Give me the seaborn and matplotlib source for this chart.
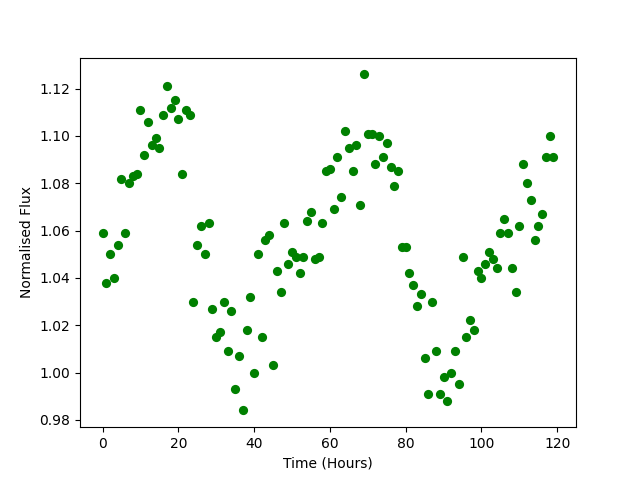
import numpy as np
import pandas as pd
import matplotlib
matplotlib.use("Agg")
import matplotlib.pyplot as plt
import seaborn as sns

# --------- data ---------
hours = list(range(120))
flux = [
    1.059, 1.038, 1.050, 1.040, 1.054, 1.082, 1.059, 1.080, 1.083, 1.084,
    1.111, 1.092, 1.106, 1.096, 1.099, 1.095, 1.109, 1.121, 1.112, 1.115,
    1.107, 1.084, 1.111, 1.109, 1.030, 1.054, 1.062, 1.050, 1.063, 1.027,
    1.015, 1.017, 1.030, 1.009, 1.026, 0.993, 1.007, 0.984, 1.018, 1.032,
    1.000, 1.050, 1.015, 1.056, 1.058, 1.003, 1.043, 1.034, 1.063, 1.046,
    1.051, 1.049, 1.042, 1.049, 1.064, 1.068, 1.048, 1.049, 1.063, 1.085,
    1.086, 1.069, 1.091, 1.074, 1.102, 1.095, 1.085, 1.096, 1.071, 1.126,
    1.101, 1.101, 1.088, 1.100, 1.091, 1.097, 1.087, 1.079, 1.085, 1.053,
    1.053, 1.042, 1.037, 1.028, 1.033, 1.006, 0.991, 1.030, 1.009, 0.991,
    0.998, 0.988, 1.000, 1.009, 0.995, 1.049, 1.015, 1.022, 1.018, 1.043,
    1.040, 1.046, 1.051, 1.048, 1.044, 1.059, 1.065, 1.059, 1.044, 1.034,
    1.062, 1.088, 1.080, 1.073, 1.056, 1.062, 1.067, 1.091, 1.100, 1.091,
]
# -------------------------------------------------

df = pd.DataFrame({"Time (Hours)": hours, "Normalised Flux": flux})

fig, ax = plt.subplots(figsize=(6.4, 4.8), dpi=100)
sns.scatterplot(data=df, x="Time (Hours)", y="Normalised Flux",
                color="green", s=44, linewidth=0, ax=ax)
ax.set_xlabel("Time (Hours)")
ax.set_ylabel("Normalised Flux")

fig.savefig("out.png", dpi=100)
